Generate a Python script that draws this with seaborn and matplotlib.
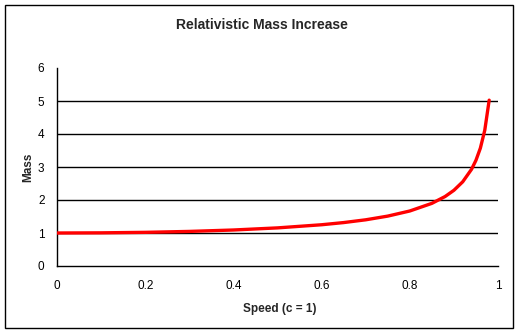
import matplotlib
matplotlib.use("Agg")
import matplotlib.pyplot as plt
import seaborn as sns
import pandas as pd
from matplotlib.patches import Rectangle

speed = [0.0, 0.1, 0.2, 0.3, 0.4, 0.5, 0.6, 0.65, 0.7, 0.75, 0.8, 0.85, 0.88, 0.9, 0.92, 0.94, 0.95, 0.96, 0.97, 0.98]
mass = [1.00, 1.005, 1.02, 1.048, 1.091, 1.155, 1.25, 1.316, 1.40, 1.512, 1.667, 1.898, 2.105, 2.294, 2.552, 2.931, 3.203, 3.571, 4.113, 5.025]
xticks = [0, 0.2, 0.4, 0.6, 0.8, 1]
xtick_labels = ["0", "0.2", "0.4", "0.6", "0.8", "1"]
yticks = [0, 1, 2, 3, 4, 5, 6]

sns.set_style("white")
plt.rcParams['font.family'] = ['Liberation Sans', 'DejaVu Sans']

W, H = 523, 335
fig = plt.figure(figsize=(W/100, H/100), dpi=100)
ax = fig.add_axes([57/W, 1-266/H, (498-57)/W, (266-68)/H])

df = pd.DataFrame({"speed": speed, "mass": mass})
for g in [1, 2, 3, 4, 5]:
    ax.axhline(g, color="black", linewidth=1, zorder=1)
sns.lineplot(data=df, x="speed", y="mass", color="#ff0000", linewidth=2.4, ax=ax, zorder=3)

ax.set_xlim(0, 1)
ax.set_ylim(0, 6)
ax.set_xticks(xticks)
ax.set_xticklabels(xtick_labels)
ax.set_yticks(yticks)
ax.tick_params(axis="both", direction="out", length=4, width=1, colors="black", labelsize=8.5, pad=6)
ax.tick_params(axis="y", pad=5)
for s in ["top", "right"]:
    ax.spines[s].set_visible(False)
for s in ["left", "bottom"]:
    ax.spines[s].set_color("black")
    ax.spines[s].set_linewidth(1)

ax.set_xlabel("Speed (c = 1)", fontsize=8.5, fontweight="bold")
ax.set_ylabel("Mass", fontsize=8.5, fontweight="bold")
ax.yaxis.set_label_coords((28-57)/441, 0.5)
ax.xaxis.set_label_coords((280-57)/441, -(309-266)/198)
ax.xaxis.label.set_va("center")
ax.yaxis.label.set_va("center")
fig.text(262/W, 1-25/H, "Relativistic Mass Increase", ha="center", va="center", fontsize=10, fontweight="bold")

fig.patches.append(Rectangle((5/W, 1-328/H), (513-5)/W, (328-5)/H, transform=fig.transFigure,
                             fill=False, edgecolor="black", linewidth=1))

fig.savefig("out.png", dpi=100)
